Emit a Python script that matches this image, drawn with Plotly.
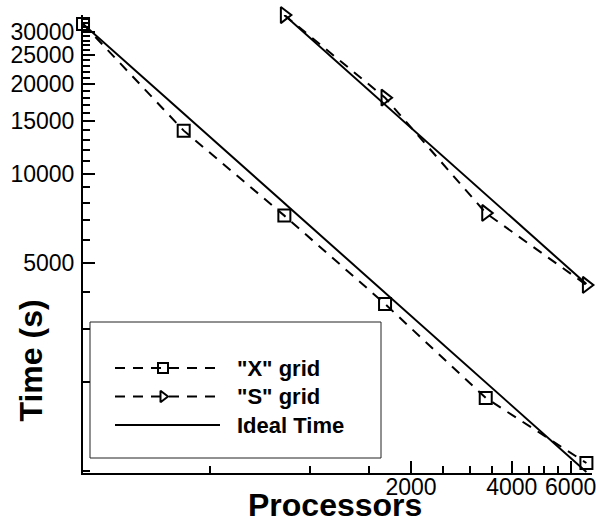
import plotly.graph_objects as go

# ---- data ----
processors_x = [209, 418, 836, 1672, 3344, 6688]
time_x_grid = [31850, 13950, 7230, 3650, 1765, 1067]
ideal_x_grid = [31850, 15925, 7960, 3980, 1990, 995]

processors_s = [836, 1672, 3344, 6688]
time_s_grid = [34100, 18000, 7380, 4230]
ideal_s_grid = [34100, 17050, 8525, 4260]

y_tickvals = [5000, 10000, 15000, 20000, 25000, 30000]
y_ticktext = ["5000", "10000", "15000", "20000", "25000", "30000"]
y_minor = [1000, 2000, 3000, 4000, 6000, 7000, 8000, 9000, 11000, 12000, 13000, 14000,
           16000, 17000, 18000, 19000, 21000, 22000, 23000, 24000, 26000, 27000,
           28000, 29000, 31000, 32000, 33000, 34000]
x_tickvals = [2000, 4000, 6000]
x_ticktext = ["2000", "4000", "6000"]
x_minor = [500, 1000, 1500, 2500, 3000, 3500, 4500, 5000, 5500]

legend_labels = ['"X" grid', '"S" grid', 'Ideal Time']

FONT = "Liberation Sans, Arial, Helvetica, sans-serif"
DASH = "10px,8px"

fig = go.Figure()

fig.add_trace(go.Scatter(x=processors_x, y=time_x_grid, mode="lines+markers",
                         line=dict(color="black", width=2, dash=DASH),
                         marker=dict(symbol="square-open", size=12, color="black",
                                     line=dict(width=2, color="black")),
                         cliponaxis=False, showlegend=False))
fig.add_trace(go.Scatter(x=processors_s, y=time_s_grid, mode="lines+markers",
                         line=dict(color="black", width=2, dash=DASH),
                         marker=dict(symbol="triangle-right-open", size=14, color="black",
                                     line=dict(width=2, color="black")),
                         cliponaxis=False, showlegend=False))
fig.add_trace(go.Scatter(x=processors_x, y=ideal_x_grid, mode="lines",
                         line=dict(color="black", width=2), cliponaxis=False,
                         showlegend=False))
fig.add_trace(go.Scatter(x=processors_s, y=ideal_s_grid, mode="lines",
                         line=dict(color="black", width=2), cliponaxis=False,
                         showlegend=False))

# ---- hand-drawn legend on a hidden pixel-space overlay axis ----
rows = [368, 396.5, 425]
lx0, lx1, lmark, ltext = 115, 220, 163, 235
fig.add_shape(type="rect", xref="x2", yref="y2", x0=90, x1=381, y0=322, y1=458,
              line=dict(color="#222", width=1), fillcolor="white", layer="below")
styles = [("square-open", DASH), ("triangle-right-open", DASH), (None, "solid")]
for (sym, dash), ry, lab in zip(styles, rows, legend_labels):
    fig.add_trace(go.Scatter(x=[lx0, lx1], y=[ry, ry], mode="lines", xaxis="x2", yaxis="y2",
                             line=dict(color="black", width=2, dash=dash), showlegend=False,
                             hoverinfo="skip"))
    if sym:
        fig.add_trace(go.Scatter(x=[lmark], y=[ry], mode="markers", xaxis="x2", yaxis="y2",
                                 marker=dict(symbol=sym, size=10, color="black",
                                             line=dict(width=2, color="black")),
                                 showlegend=False, hoverinfo="skip"))
    fig.add_annotation(xref="x2", yref="y2", x=ltext, y=ry, text=lab, showarrow=False,
                       xanchor="left", yanchor="middle",
                       font=dict(family=FONT, size=22, color="black", weight="bold"))

W, H = 596, 525
L, R, T, B = 83, 4, 15, 52

fig.update_layout(
    width=W, height=H,
    margin=dict(l=L, r=R, t=T, b=B, autoexpand=False),
    plot_bgcolor="white", paper_bgcolor="white",
    font=dict(family=FONT, size=23, color="black"),
    xaxis=dict(type="log", range=[2.3201, 3.842], showline=True, linecolor="black",
               linewidth=2, mirror=False, showgrid=False, zeroline=False,
               automargin=False, ticklabeloverflow="allow",
               tickmode="array", tickvals=x_tickvals, ticktext=x_ticktext,
               ticks="inside", ticklen=12, tickwidth=2, tickcolor="black",
               ticklabelstandoff=-8,
               minor=dict(tickmode="array", tickvals=x_minor, ticks="inside",
                          ticklen=7, tickwidth=1.5, tickcolor="black", showgrid=False)),
    yaxis=dict(type="log", range=[2.9946, 4.533], showline=True, linecolor="black",
               linewidth=2, mirror=False, showgrid=False, zeroline=False,
               automargin=False, ticklabeloverflow="allow",
               tickmode="array", tickvals=y_tickvals, ticktext=y_ticktext,
               ticks="inside", ticklen=12, tickwidth=2, tickcolor="black",
               ticklabelstandoff=2,
               minor=dict(tickmode="array", tickvals=y_minor, ticks="inside",
                          ticklen=7, tickwidth=1.5, tickcolor="black", showgrid=False)),
    xaxis2=dict(overlaying="x", range=[L, W - R], visible=False, fixedrange=True,
                automargin=False),
    yaxis2=dict(overlaying="y", range=[H - B, T], visible=False, fixedrange=True,
                automargin=False),
    showlegend=False,
)

pw, ph = W - L - R, H - T - B
fig.add_annotation(xref="paper", yref="paper", x=(30 - L) / pw, y=(H - B - 360.5) / ph,
                   text="Time (s)", textangle=-90, showarrow=False,
                   xanchor="center", yanchor="middle",
                   font=dict(family=FONT, size=32, color="black", weight="bold"))
fig.add_annotation(xref="paper", yref="paper", x=(335 - L) / pw, y=(H - B - 505) / ph,
                   text="Processors", showarrow=False,
                   xanchor="center", yanchor="middle",
                   font=dict(family=FONT, size=32, color="black", weight="bold"))

fig.write_html("out.html", config={"displayModeBar": False},
               post_script="document.body.style.margin='0px';document.body.style.overflow='hidden';")
